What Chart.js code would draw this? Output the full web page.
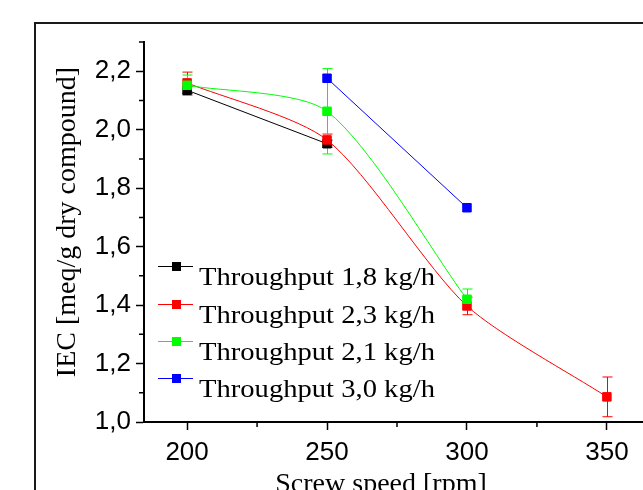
<!DOCTYPE html>
<html>
<head>
<meta charset="utf-8">
<script src="https://cdn.jsdelivr.net/npm/chart.js@4.4.1/dist/chart.umd.min.js"></script>
<style>
    html, body { margin: 0; padding: 0; background: #fff; overflow: hidden; }
    #contenedor { position: relative; width: 643px; height: 490px; }
</style>
</head>
<body>
<div id="contenedor">
    <canvas id="grafica" width="643" height="490"></canvas>
</div>
<script>
        // values (screw speed in rpm, IEC in meq/g)
        const speeds18 = [200, 250];
        const iec18 = [2.135, 1.952];
        const err18 = [0.012, 0.012];

        const speeds23 = [200, 250, 300, 350];
        const iec23 = [2.160, 1.965, 1.397, 1.086];
        const err23 = [0.037, 0.02, 0.03, 0.068];

        const speeds21 = [200, 250, 300];
        const iec21 = [2.152, 2.063, 1.420];
        const err21 = [0.035, 0.146, 0.035];

        const speeds30 = [250, 300];
        const iec30 = [2.176, 1.733];
        const err30 = [0, 0];

        const seriesNames = ['Throughput 1,8 kg/h', 'Throughput 2,3 kg/h', 'Throughput 2,1 kg/h', 'Throughput 3,0 kg/h'];
        const seriesColors = ['#000000', '#ff0000', '#00ff00', '#0000ff'];

        const xTicks = [200, 225, 250, 275, 300, 325, 350];
        const yTicks = [1.0, 1.1, 1.2, 1.3, 1.4, 1.5, 1.6, 1.7, 1.8, 1.9, 2.0, 2.1, 2.2, 2.3];

        const xTitle = 'Screw speed [rpm]';
        const yTitle = 'IEC [meq/g dry compound]';

        function puntos(xs, ys){
            return xs.map((x, i) => ({ x: x, y: ys[i] }));
        }

        function esMayorX(v){ return v % 50 === 0; }
        function esMayorY(v){ return Math.round(v * 10) % 2 === 0; }

        function serie(i, xs, ys, errs, tension, orden){
            return {
                label: seriesNames[i],
                data: puntos(xs, ys),
                errores: errs,
                borderColor: seriesColors[i],
                backgroundColor: seriesColors[i],
                borderWidth: 1,
                tension: tension,
                pointStyle: 'rect',
                pointRadius: 6,
                pointBorderWidth: 1,
                order: orden
            };
        }

        const barrasError = {
            id: 'barrasError',
            beforeDatasetsDraw(chart){
                const ctx = chart.ctx;
                const sx = chart.scales.x;
                const sy = chart.scales.y;
                ctx.save();
                ctx.lineWidth = 1;
                chart.data.datasets.forEach(ds => {
                    ctx.strokeStyle = ds.borderColor;
                    ds.data.forEach((p, i) => {
                        const e = ds.errores[i];
                        if(!e) return;
                        const px = Math.round(sx.getPixelForValue(p.x)) + 0.5;
                        const top = sy.getPixelForValue(p.y + e);
                        const bot = sy.getPixelForValue(p.y - e);
                        ctx.beginPath();
                        ctx.moveTo(px, top); ctx.lineTo(px, bot);
                        ctx.moveTo(px - 5, top); ctx.lineTo(px + 5, top);
                        ctx.moveTo(px - 5, bot); ctx.lineTo(px + 5, bot);
                        ctx.stroke();
                    });
                });
                ctx.restore();
            }
        };

        const extras = {
            id: 'extras',
            beforeDraw(chart){
                // outer frame of the figure
                const ctx = chart.ctx;
                ctx.save();
                ctx.strokeStyle = '#1a1a1a';
                ctx.lineWidth = 2;
                ctx.strokeRect(35, 23, 700, 600);
                ctx.restore();
            },
            afterDraw(chart){
                const ctx = chart.ctx;
                const sx = chart.scales.x;
                const sy = chart.scales.y;
                const area = chart.chartArea;
                ctx.save();

                // minor ticks
                ctx.strokeStyle = '#000';
                ctx.lineWidth = 1.5;
                ctx.beginPath();
                xTicks.filter(v => !esMayorX(v)).forEach(v => {
                    const px = sx.getPixelForValue(v);
                    ctx.moveTo(px, area.bottom); ctx.lineTo(px, area.bottom + 5);
                });
                yTicks.filter(v => !esMayorY(v)).forEach(v => {
                    const py = sy.getPixelForValue(v);
                    ctx.moveTo(area.left, py); ctx.lineTo(area.left - 5, py);
                });
                ctx.stroke();

                // axis titles
                ctx.fillStyle = '#000';
                ctx.font = '28px "Liberation Serif", "Times New Roman", serif';
                ctx.textAlign = 'center';
                ctx.textBaseline = 'alphabetic';
                ctx.fillText(xTitle, 381, 492);

                ctx.save();
                ctx.translate(68, 222);
                ctx.rotate(-Math.PI / 2);
                ctx.textBaseline = 'middle';
                ctx.fillText(yTitle, 0, 0);
                ctx.restore();

                // legend inside the plot
                ctx.textAlign = 'left';
                const filas = [266, 304, 341, 378];
                chart.data.datasets.forEach((ds, i) => {
                    const y = filas[i];
                    ctx.strokeStyle = ds.borderColor;
                    ctx.lineWidth = 1;
                    ctx.beginPath();
                    ctx.moveTo(158, y + 0.5); ctx.lineTo(193, y + 0.5);
                    ctx.stroke();
                    ctx.fillStyle = ds.backgroundColor;
                    ctx.fillRect(172, y - 4, 9, 9);
                    ctx.fillStyle = '#000';
                    ctx.save();
                    ctx.translate(199, y + 19);
                    ctx.scale(1.1, 1);
                    ctx.font = '26px "Liberation Serif", "Times New Roman", serif';
                    ctx.fillText(ds.label, 0, 0);
                    ctx.restore();
                });

                ctx.restore();
            }
        };

        const ctx = document.getElementById('grafica');

        const grafica = new Chart(ctx, {
            type: 'line',
            data: {
                datasets: [
                    serie(0, speeds18, iec18, err18, 0, 4),
                    serie(1, speeds23, iec23, err23, 0.25, 3),
                    serie(2, speeds21, iec21, err21, 0.25, 2),
                    serie(3, speeds30, iec30, err30, 0, 1)
                ]
            },
            options: {
                responsive: false,
                animation: false,
                layout: {
                    autoPadding: false,
                    padding: { top: 42, right: 0, left: 0, bottom: 0 }
                },
                plugins: {
                    legend: { display: false },
                    tooltip: { enabled: false }
                },
                scales: {
                    x: {
                        type: 'linear',
                        min: 184.6,
                        max: 362.9,
                        afterFit: scale => {
                            scale.height = 68;
                            scale.paddingLeft = 0;
                            scale.paddingRight = 0;
                        },
                        afterBuildTicks: scale => { scale.ticks = xTicks.map(v => ({ value: v })); },
                        border: { display: true, color: '#000', width: 2 },
                        grid: {
                            display: true,
                            drawOnChartArea: false,
                            drawTicks: true,
                            tickLength: 8,
                            tickWidth: 1.5,
                            tickColor: c => (c.tick && esMayorX(c.tick.value)) ? '#000' : 'rgba(0,0,0,0)'
                        },
                        ticks: {
                            color: '#000',
                            padding: 7,
                            maxRotation: 0,
                            autoSkip: false,
                            font: { family: '"Liberation Sans", Arial, sans-serif', size: 26 },
                            callback: v => esMayorX(v) ? String(v) : ''
                        }
                    },
                    y: {
                        min: 1.0,
                        max: 2.3,
                        afterFit: scale => {
                            scale.width = 144;
                            scale.paddingTop = 0;
                            scale.paddingBottom = 0;
                        },
                        afterBuildTicks: scale => { scale.ticks = yTicks.map(v => ({ value: v })); },
                        border: { display: true, color: '#000', width: 2 },
                        grid: {
                            display: true,
                            drawOnChartArea: false,
                            drawTicks: true,
                            tickLength: 8,
                            tickWidth: 1.5,
                            tickColor: c => (c.tick && esMayorY(c.tick.value)) ? '#000' : 'rgba(0,0,0,0)'
                        },
                        ticks: {
                            color: '#000',
                            padding: 5,
                            autoSkip: false,
                            font: { family: '"Liberation Sans", Arial, sans-serif', size: 26 },
                            callback: v => esMayorY(v) ? v.toFixed(1).replace('.', ',') : ''
                        }
                    }
                }
            },
            plugins: [barrasError, extras]
        });
</script>
</body>
</html>
